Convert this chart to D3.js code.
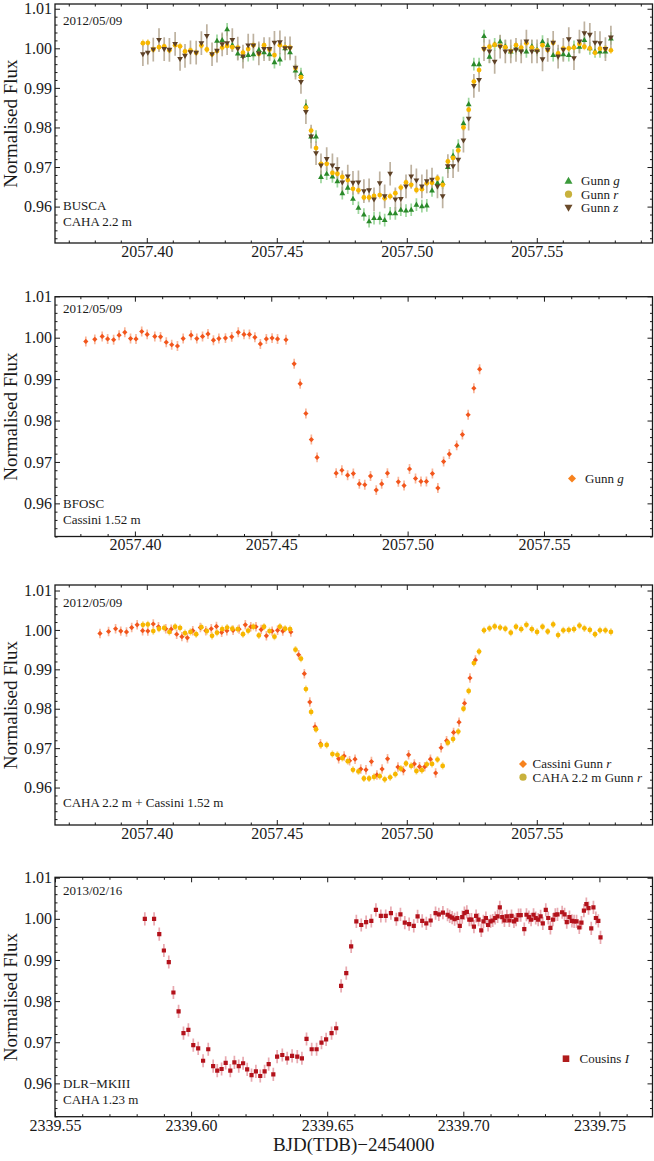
<!DOCTYPE html>
<html><head><meta charset="utf-8">
<script src="https://cdn.jsdelivr.net/npm/d3@7"></script>
<style>
body{margin:0;background:#fff}
svg{display:block}
text{font-family:"Liberation Serif","Times New Roman",serif;fill:#1a1a1a}
</style>
</head><body>
<svg id="chart" width="654" height="1161"></svg>
<script>
// ---------------- DATA ----------------
// BUSCA (CAHA 2.2 m) simultaneous light curves, 2012/05/09
const buscaTime = [
2057.3985,2057.4004,2057.4025,2057.4047,2057.4067,2057.4087,2057.4109,2057.4128,2057.4147,2057.4168,
2057.4190,2057.4210,2057.4231,2057.4251,2057.4270,2057.4290,2057.4309,2057.4329,2057.4350,2057.4370,
2057.4390,2057.4410,2057.4431,2057.4451,2057.4472,2057.4491,2057.4512,2057.4532,2057.4551,2057.4572,
2057.4593,2057.4612,2057.4632,2057.4651,2057.4670,2057.4692,2057.4714,2057.4733,2057.4752,2057.4773,
2057.4793,2057.4814,2057.4835,2057.4855,2057.4874,2057.4896,2057.4915,2057.4936,2057.4956,2057.4977,
2057.4997,2057.5017,2057.5037,2057.5058,2057.5077,2057.5097,2057.5118,2057.5138,2057.5158,2057.5178,
2057.5198,2057.5218,2057.5238,2057.5258,2057.5278,2057.5297,2057.5318,2057.5338,2057.5359,2057.5379,
2057.5400,2057.5420,2057.5440,2057.5460,2057.5481,2057.5501,2057.5522,2057.5542,2057.5563,2057.5582,
2057.5602,2057.5623,2057.5643,2057.5664,2057.5683,2057.5704,2057.5724,2057.5743,2057.5764,2057.5785];
const buscaG = [
null,null,null,null,null,null,null,null,null,null,
null,null,null,null,1.0019,1.0021,1.0048,1.0008,0.9987,0.9981,
0.9983,0.9985,0.9996,0.9990,0.9985,0.9965,0.9972,1.0000,0.9990,0.9944,
0.9935,0.9855,0.9777,0.9777,0.9675,0.9683,0.9676,0.9664,0.9634,0.9648,
0.9620,0.9597,0.9580,0.9563,0.9571,0.9571,0.9566,0.9583,0.9583,0.9592,
0.9590,0.9592,0.9605,0.9601,0.9603,0.9641,0.9660,0.9660,0.9700,0.9729,
0.9754,0.9811,0.9859,0.9960,0.9960,1.0031,0.9979,1.0010,1.0017,1.0005,
0.9992,1.0000,0.9997,0.9992,1.0005,0.9996,1.0017,1.0008,0.9983,0.9985,
0.9985,0.9983,1.0004,1.0004,1.0021,1.0000,0.9992,0.9992,0.9992,1.0025];
const buscaR = [
1.0013,1.0014,0.9997,1.0003,1.0005,0.9995,1.0008,1.0005,0.9992,0.9995,
0.9989,1.0007,0.9997,0.9985,0.9993,1.0002,1.0006,1.0003,1.0002,0.9989,
0.9998,1.0008,0.9986,1.0008,0.9997,0.9983,1.0008,1.0003,1.0002,0.9950,
0.9927,0.9850,0.9792,0.9748,0.9708,0.9708,0.9685,0.9683,0.9675,0.9667,
0.9645,0.9641,0.9623,0.9623,0.9627,0.9629,0.9621,0.9626,0.9634,0.9648,
0.9661,0.9655,0.9642,0.9644,0.9659,0.9660,0.9671,0.9655,0.9714,0.9723,
0.9742,0.9800,0.9845,0.9916,0.9945,0.9999,1.0004,1.0009,1.0006,1.0003,
0.9993,1.0008,1.0002,1.0013,1.0002,0.9995,1.0008,0.9996,1.0014,0.9987,
0.9999,1.0000,1.0002,1.0011,1.0004,1.0000,0.9989,0.9999,0.9999,0.9995];
const buscaZ = [
0.9985,0.9989,0.9997,1.0021,0.9998,0.9996,1.0011,0.9973,0.9981,0.9990,
0.9989,1.0013,1.0031,0.9985,0.9994,1.0010,1.0013,1.0021,0.9999,0.9979,
1.0007,1.0007,0.9987,0.9998,0.9998,1.0014,1.0015,1.0000,1.0000,0.9951,
0.9915,0.9839,0.9777,0.9735,0.9704,0.9720,0.9704,0.9695,0.9661,0.9676,
0.9660,0.9661,0.9639,0.9641,0.9618,0.9659,0.9626,0.9683,0.9618,0.9619,
0.9651,0.9676,0.9666,0.9651,0.9664,0.9668,0.9651,0.9626,0.9702,0.9702,
0.9718,0.9767,0.9822,0.9905,0.9920,0.9998,0.9992,0.9966,1.0004,0.9992,
0.9992,0.9996,0.9992,1.0017,0.9992,0.9992,0.9972,0.9996,1.0014,0.9979,
0.9996,1.0023,0.9975,1.0017,1.0038,1.0034,1.0014,1.0013,0.9998,1.0027];
const buscaErrG = 0.0016, buscaErrR = 0.0009, buscaErrZ = 0.0030;

// BFOSC (Cassini 1.52 m), 2012/05/09
const cassiniTime = [
2057.3820,2057.3853,2057.3880,2057.3900,2057.3922,2057.3942,2057.3963,2057.3984,2057.4004,2057.4025,
2057.4045,2057.4073,2057.4094,2057.4115,2057.4135,2057.4156,2057.4177,2057.4206,2057.4227,2057.4248,
2057.4268,2057.4288,2057.4308,2057.4332,2057.4355,2057.4379,2057.4400,2057.4420,2057.4440,2057.4460,
2057.4482,2057.4503,2057.4523,2057.4554,2057.4584,2057.4606,2057.4627,2057.4647,2057.4668,2057.4738,
2057.4759,2057.4780,2057.4801,2057.4823,2057.4843,2057.4864,2057.4885,2057.4905,2057.4926,2057.4966,
2057.4987,2057.5007,2057.5029,2057.5049,2057.5069,2057.5091,2057.5111,2057.5132,2057.5153,2057.5180,
2057.5201,2057.5222,2057.5243,2057.5264];
const cassiniFlux = [
0.9991,0.9996,1.0003,0.9997,0.9995,1.0006,1.0013,0.9998,0.9997,1.0015,
1.0008,1.0003,1.0002,0.9989,0.9983,0.9980,0.9998,1.0006,0.9998,1.0003,
1.0009,0.9994,0.9998,0.9999,1.0002,1.0013,1.0008,1.0008,1.0001,0.9985,
0.9997,0.9999,0.9997,0.9995,0.9937,0.9889,0.9817,0.9754,0.9711,0.9673,
0.9680,0.9668,0.9672,0.9647,0.9645,0.9666,0.9632,0.9647,0.9673,0.9652,
0.9643,0.9683,0.9660,0.9653,0.9653,0.9672,0.9637,0.9701,0.9719,0.9740,
0.9766,0.9814,0.9878,0.9924];
const cassiniErr = 0.0012;

// DLR-MKIII (CAHA 1.23 m), 2013/02/16, Cousins I
const dlrTime = [
2339.5830,2339.5864,2339.5883,2339.5900,2339.5918,2339.5935,2339.5954,2339.5972,2339.5990,2339.6008,
2339.6026,2339.6044,2339.6063,2339.6081,2339.6096,2339.6112,2339.6127,2339.6144,2339.6159,2339.6175,
2339.6191,2339.6206,2339.6222,2339.6238,2339.6254,2339.6270,2339.6285,2339.6302,2339.6316,2339.6335,
2339.6353,2339.6371,2339.6390,2339.6407,2339.6424,2339.6443,2339.6461,2339.6479,2339.6496,2339.6516,
2339.6533,2339.6551,2339.6570,2339.6588,2339.6607,2339.6625,2339.6643,2339.6662,2339.6679,2339.6697,
2339.6715,2339.6734,2339.6754,2339.6769,2339.6785,2339.6801,2339.6818,2339.6832,2339.6849,2339.6864,
2339.6880,2339.6898,2339.6910,2339.6925,2339.6942,2339.6950,2339.6959,2339.6968,2339.6978,2339.6987,
2339.6996,2339.7004,2339.7013,2339.7022,2339.7030,2339.7039,2339.7047,2339.7056,2339.7066,2339.7074,
2339.7083,2339.7091,2339.7100,2339.7108,2339.7117,2339.7126,2339.7134,2339.7143,2339.7151,2339.7160,
2339.7169,2339.7177,2339.7186,2339.7194,2339.7203,2339.7211,2339.7224,2339.7232,2339.7241,2339.7249,
2339.7258,2339.7266,2339.7275,2339.7284,2339.7292,2339.7303,2339.7312,2339.7320,2339.7329,2339.7338,
2339.7346,2339.7363,2339.7372,2339.7380,2339.7390,2339.7399,2339.7407,2339.7416,2339.7426,2339.7434,
2339.7443,2339.7452,2339.7460,2339.7470,2339.7478,2339.7487,2339.7496,2339.7504];
const dlrFlux = [
1.0000,1.0000,0.9963,0.9923,0.9895,0.9821,0.9775,0.9722,0.9730,0.9693,
0.9685,0.9655,0.9683,0.9642,0.9631,0.9635,0.9650,0.9631,0.9651,0.9642,
0.9649,0.9634,0.9620,0.9629,0.9618,0.9629,0.9647,0.9622,0.9665,0.9669,
0.9661,0.9667,0.9665,0.9661,0.9708,0.9683,0.9683,0.9699,0.9707,0.9722,
0.9734,0.9837,0.9868,0.9933,0.9994,0.9985,0.9992,0.9995,1.0022,1.0007,
1.0007,1.0014,0.9999,1.0011,0.9991,0.9987,0.9983,1.0006,0.9995,0.9989,
0.9996,1.0014,1.0011,1.0015,1.0010,1.0006,1.0003,0.9999,1.0002,0.9983,
1.0004,1.0014,1.0017,0.9998,0.9998,0.9981,1.0007,0.9998,0.9972,0.9994,
1.0002,0.9985,0.9994,0.9996,1.0002,1.0006,1.0028,1.0004,0.9996,1.0006,
0.9996,1.0007,0.9994,0.9998,1.0009,1.0009,0.9975,1.0010,1.0004,0.9998,
1.0010,1.0002,0.9998,1.0006,0.9989,1.0022,1.0002,0.9978,0.9998,1.0010,
1.0011,1.0016,1.0011,0.9992,1.0004,0.9995,0.9994,0.9994,0.9979,0.9991,
1.0020,1.0036,1.0026,0.9977,1.0028,1.0002,0.9995,0.9955];
const dlrErr = 0.0016;

// axis ticks and labels
const xTicks2012 = [2057.40, 2057.45, 2057.50, 2057.55];
const xTicks2013 = [2339.55, 2339.60, 2339.65, 2339.70, 2339.75];
const yTicks = [0.96, 0.97, 0.98, 0.99, 1.00, 1.01];
const dateLabels = ["2012/05/09", "2012/05/09", "2012/05/09", "2013/02/16"];
const siteLabels = [["BUSCA", "CAHA 2.2 m"], ["BFOSC", "Cassini 1.52 m"], ["CAHA 2.2 m + Cassini 1.52 m"], ["DLR\u2212MKIII", "CAHA 1.23 m"]];
const legendLabels = [
  [["Gunn ", "g"], ["Gunn ", "r"], ["Gunn ", "z"]],
  [["Gunn ", "g"]],
  [["Cassini Gunn ", "r"], ["CAHA 2.2 m Gunn ", "r"]],
  [["Cousins ", "I"]]
];
const yTitle = "Normalised Flux";
const xTitle = "BJD(TDB)\u22122454000";

// ---------------- STYLE / LAYOUT ----------------
const svg = d3.select("#chart");
const L = 55, R = 652.5;
const styles = {
  g: {shape: "tri", size: 2.9, fill: "#2a8a2a", bar: "#8ccf8c"},
  r: {shape: "circle", size: 2.4, fill: "#f7b700", bar: "#f6d77a"},
  z: {shape: "itri", size: 2.9, fill: "#5e4126", bar: "#b3a48f"},
  cas: {shape: "diamond", size: 2.6, fill: "#f2561c", bar: "#f7a98a"},
  dlr: {shape: "square", size: 2.1, fill: "#b3121b", bar: "#e49aa2"}
};
const legendStyles = [
  [{shape: "tri", fill: "#3b9a3b"}, {shape: "circle", fill: "#c8b13c"}, {shape: "itri", fill: "#6a4a2a"}],
  [{shape: "diamond", fill: "#f7821e"}],
  [{shape: "diamond", fill: "#f7821e"}, {shape: "circle", fill: "#c8b13c"}],
  [{shape: "square", fill: "#b01c1c"}]
];

function zipSeries(t, f) {
  return t.map((d, i) => ({t: d, f: f[i]})).filter(d => d.f != null);
}

const panels = [
  {top: 4, bottom: 243, xd: [2057.3647, 2057.5945], yd: [0.9508, 1.0112], xt: xTicks2012,
   series: [[zipSeries(buscaTime, buscaG), "g", buscaErrG], [zipSeries(buscaTime, buscaR), "r", buscaErrR], [zipSeries(buscaTime, buscaZ), "z", buscaErrZ]],
   leg: {mx: 568.5, tx: 581, dy: -2}},
  {top: 296.7, bottom: 536.5, xd: [2057.3707, 2057.5898], yd: [0.952, 1.0099], xt: xTicks2012,
   series: [[zipSeries(cassiniTime, cassiniFlux), "cas", cassiniErr]],
   leg: {mx: 572, tx: 585, dy: 0}},
  {top: 585, bottom: 825, xd: [2057.3647, 2057.5945], yd: [0.9505, 1.0114], xt: xTicks2012,
   series: [[zipSeries(cassiniTime, cassiniFlux), "cas", cassiniErr], [zipSeries(buscaTime, buscaR), "r", buscaErrR]],
   leg: {mx: 523, tx: 532.5, dy: 0}},
  {top: 877.3, bottom: 1116.7, xd: [2339.55, 2339.7695], yd: [0.9519, 1.0101], xt: xTicks2013,
   series: [[zipSeries(dlrTime, dlrFlux), "dlr", dlrErr]],
   leg: {mx: 566, tx: 579.5, dy: 0}}
];
const legendStep = 13.3;

function shapePath(shape, s) {
  if (shape === "circle") return d3.symbol(d3.symbolCircle, Math.PI * s * s)();
  if (shape === "tri") return `M0,${-s * 1.05}L${s},${s * 0.7}L${-s},${s * 0.7}Z`;
  if (shape === "itri") return `M0,${s * 1.05}L${s},${-s * 0.7}L${-s},${-s * 0.7}Z`;
  if (shape === "diamond") return `M0,${-s}L${s},0L0,${s}L${-s},0Z`;
  if (shape === "square") return `M${-s},${-s}H${s}V${s}H${-s}Z`;
}

panels.forEach((p, pi) => {
  const x = d3.scaleLinear().domain(p.xd).range([L, R]);
  const y = d3.scaleLinear().domain(p.yd).range([p.bottom, p.top]);
  const g = svg.append("g");

  const clipId = "clip" + pi;
  svg.append("clipPath").attr("id", clipId).append("rect")
    .attr("x", L).attr("y", p.top).attr("width", R - L).attr("height", p.bottom - p.top);

  const dataG = g.append("g").attr("clip-path", `url(#${clipId})`);
  p.series.forEach(([data, key, err]) => {
    const st = styles[key];
    dataG.append("g").selectAll("line").data(data).join("line")
      .attr("x1", d => x(d.t)).attr("x2", d => x(d.t))
      .attr("y1", d => y(d.f - err)).attr("y2", d => y(d.f + err))
      .attr("stroke", st.bar).attr("stroke-width", 1.7).attr("stroke-opacity", 0.85);
  });
  p.series.forEach(([data, key]) => {
    const st = styles[key];
    dataG.append("g").selectAll("path").data(data).join("path")
      .attr("transform", d => `translate(${x(d.t)},${y(d.f)})`)
      .attr("d", shapePath(st.shape, st.size))
      .attr("fill", st.fill);
  });

  const minorX = d3.range(Math.ceil(p.xd[0] * 100), Math.floor(p.xd[1] * 100) + 1).map(v => v / 100)
    .filter(v => !p.xt.some(t => Math.abs(t - v) < 1e-6));
  const minorY = d3.range(Math.ceil(p.yd[0] * 500), Math.floor(p.yd[1] * 500) + 1).map(v => v / 500)
    .filter(v => !yTicks.some(t => Math.abs(t - v) < 1e-6));

  function styleAxis(sel) {
    sel.select(".domain").remove();
    sel.selectAll("line").attr("stroke", "#1a1a1a").attr("stroke-width", 1);
    sel.selectAll("text").attr("font-size", 16).attr("fill", "#1a1a1a")
      .style("font-family", '"Liberation Serif","Times New Roman",serif');
  }
  g.append("g").attr("transform", `translate(0,${p.bottom})`)
    .call(d3.axisBottom(x).tickValues(p.xt).tickSizeInner(-5).tickSizeOuter(0).tickPadding(2.5).tickFormat(d3.format(".2f")))
    .call(styleAxis);
  g.append("g").attr("transform", `translate(0,${p.bottom})`)
    .call(d3.axisBottom(x).tickValues(minorX).tickSizeInner(-2.5).tickSizeOuter(0).tickFormat(""))
    .call(styleAxis);
  g.append("g").attr("transform", `translate(0,${p.top})`)
    .call(d3.axisTop(x).tickValues(p.xt).tickSizeInner(-5).tickSizeOuter(0).tickFormat(""))
    .call(styleAxis);
  g.append("g").attr("transform", `translate(0,${p.top})`)
    .call(d3.axisTop(x).tickValues(minorX).tickSizeInner(-2.5).tickSizeOuter(0).tickFormat(""))
    .call(styleAxis);
  g.append("g").attr("transform", `translate(${L},0)`)
    .call(d3.axisLeft(y).tickValues(yTicks).tickSizeInner(-5).tickSizeOuter(0).tickPadding(3).tickFormat(d3.format(".2f")))
    .call(styleAxis);
  g.append("g").attr("transform", `translate(${L},0)`)
    .call(d3.axisLeft(y).tickValues(minorY).tickSizeInner(-2.5).tickSizeOuter(0).tickFormat(""))
    .call(styleAxis);
  g.append("g").attr("transform", `translate(${R},0)`)
    .call(d3.axisRight(y).tickValues(yTicks).tickSizeInner(-5).tickSizeOuter(0).tickFormat(""))
    .call(styleAxis);
  g.append("g").attr("transform", `translate(${R},0)`)
    .call(d3.axisRight(y).tickValues(minorY).tickSizeInner(-2.5).tickSizeOuter(0).tickFormat(""))
    .call(styleAxis);

  g.append("rect").attr("x", L).attr("y", p.top).attr("width", R - L).attr("height", p.bottom - p.top)
    .attr("fill", "none").attr("stroke", "#1a1a1a").attr("stroke-width", 1.3);

  g.append("text").attr("transform", `translate(17,${(p.top + p.bottom) / 2}) rotate(-90)`)
    .attr("text-anchor", "middle").attr("font-size", 19).text(yTitle);

  g.append("text").attr("x", L + 8).attr("y", y(1.007) + 4.5).attr("font-size", 13).text(dateLabels[pi]);

  const sl = siteLabels[pi];
  const baseY = y(0.9562) + 4.5;
  sl.forEach((t, i) => {
    g.append("text").attr("x", L + 8).attr("y", baseY - (sl.length - 1 - i) * 15.7)
      .attr("font-size", 13).text(t);
  });

  const y0 = y(0.966) + p.leg.dy;
  legendLabels[pi].forEach((lab, i) => {
    const ls = legendStyles[pi][i];
    const cy = y0 + i * legendStep;
    const sz = ls.shape === "circle" ? 3.6 : ls.shape === "square" ? 3.3 : 4;
    g.append("path").attr("transform", `translate(${p.leg.mx},${cy})`)
      .attr("d", shapePath(ls.shape, sz)).attr("fill", ls.fill);
    const tx = g.append("text").attr("x", p.leg.tx).attr("y", cy + 4.5).attr("font-size", 13);
    tx.append("tspan").text(lab[0]);
    tx.append("tspan").attr("font-style", "italic").text(lab[1]);
  });
});

svg.append("text").attr("x", (L + R) / 2).attr("y", 1151).attr("text-anchor", "middle")
  .attr("font-size", 19).text(xTitle);
</script>
</body></html>
